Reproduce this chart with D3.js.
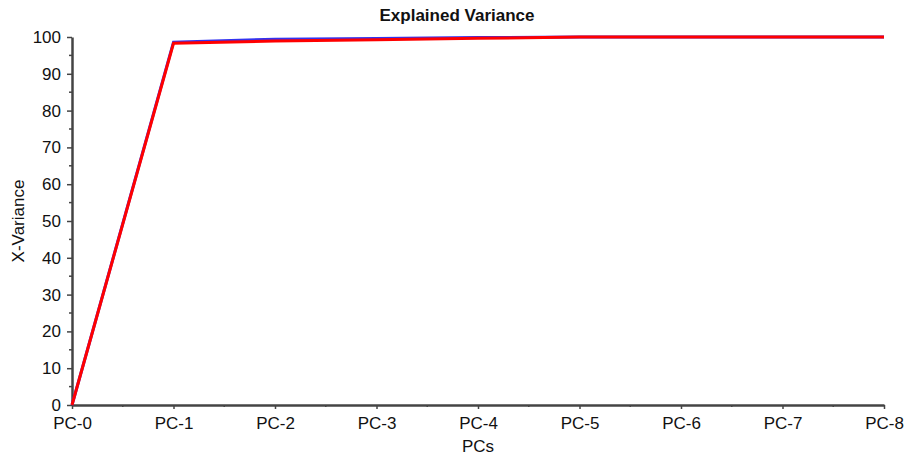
<!DOCTYPE html>
<html>
<head>
<meta charset="utf-8">
<script src="https://cdn.jsdelivr.net/npm/d3@7"></script>
<style>
body { margin: 0; background: #fff; }
text { font-family: "Liberation Sans", Arial, sans-serif; fill: #111; }
</style>
</head>
<body>
<div id="chart"></div>
<script>
var categories = ["PC-0", "PC-1", "PC-2", "PC-3", "PC-4", "PC-5", "PC-6", "PC-7", "PC-8"];
var calibration = [0, 98.6, 99.4, 99.6, 99.85, 100, 100, 100, 100];
var validation = [0, 98.3, 98.9, 99.25, 99.65, 100, 100, 100, 100];
var yTicks = [0, 10, 20, 30, 40, 50, 60, 70, 80, 90, 100];

var W = 910, H = 456;
var margin = { left: 72, right: 26, top: 37, bottom: 51 };

var svg = d3.select("#chart").append("svg")
    .attr("width", W)
    .attr("height", H);

var x = d3.scalePoint()
    .domain(categories)
    .range([margin.left, W - margin.right]);

var y = d3.scaleLinear()
    .domain([0, 100])
    .range([H - margin.bottom, margin.top]);

// minor ticks
var minorY = d3.range(5, 100, 10);
svg.selectAll(".minorY")
    .data(minorY)
    .enter()
    .append("line")
    .attr("x1", margin.left - 3)
    .attr("x2", margin.left)
    .attr("y1", function(d) { return y(d); })
    .attr("y2", function(d) { return y(d); })
    .style("stroke", "#444")
    .style("stroke-width", 1.5);

var minorX = categories.slice(1).map(function(c, i) {
    return (x(categories[i]) + x(c)) / 2;
});
svg.selectAll(".minorX")
    .data(minorX)
    .enter()
    .append("line")
    .attr("x1", function(d) { return d; })
    .attr("x2", function(d) { return d; })
    .attr("y1", H - margin.bottom)
    .attr("y2", H - margin.bottom + 2)
    .style("stroke", "#444")
    .style("stroke-width", 1.5);

var yAxis = svg.append("g")
    .attr("transform", "translate(" + margin.left + ",0)")
    .call(d3.axisLeft(y).tickValues(yTicks).tickSizeInner(5).tickSizeOuter(0).tickPadding(6));

var xAxis = svg.append("g")
    .attr("transform", "translate(0," + (H - margin.bottom) + ")")
    .call(d3.axisBottom(x).tickSizeInner(4).tickSizeOuter(0).tickPadding(8));

[yAxis, xAxis].forEach(function(a) {
    a.select(".domain").style("stroke", "#444").style("stroke-width", 2.5);
    a.selectAll(".tick line").style("stroke", "#444").style("stroke-width", 1.5);
    a.selectAll("text")
        .style("font-family", "'Liberation Sans', Arial, sans-serif")
        .style("font-size", "17px")
        .style("fill", "#111");
});
xAxis.selectAll("text").attr("y", 12);

var line = d3.line()
    .x(function(d, i) { return x(categories[i]); })
    .y(function(d) { return y(d); });

svg.append("path")
    .datum(calibration)
    .attr("d", line)
    .style("fill", "none")
    .style("stroke", "#3232f0")
    .style("stroke-width", 3);

svg.append("path")
    .datum(validation)
    .attr("d", line)
    .style("fill", "none")
    .style("stroke", "#ff0000")
    .style("stroke-width", 3);

svg.append("text")
    .attr("x", 457)
    .attr("y", 21)
    .attr("text-anchor", "middle")
    .style("font-size", "17px")
    .style("font-weight", "bold")
    .text("Explained Variance");

svg.append("text")
    .attr("x", 478)
    .attr("y", 452)
    .attr("text-anchor", "middle")
    .style("font-size", "17px")
    .text("PCs");

svg.append("text")
    .attr("transform", "translate(24," + 221 + ") rotate(-90)")
    .attr("text-anchor", "middle")
    .style("font-size", "17px")
    .text("X-Variance");
</script>
</body>
</html>
